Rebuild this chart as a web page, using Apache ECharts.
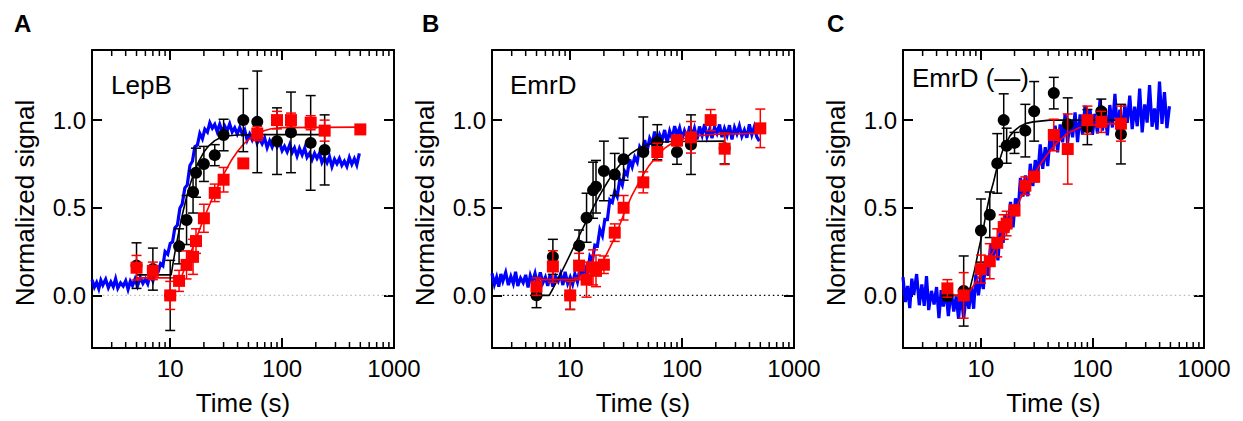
<!DOCTYPE html>
<html><head><meta charset="utf-8">
<script src="https://cdn.jsdelivr.net/npm/echarts@6.0.0/dist/echarts.min.js"></script>
<style>html,body{margin:0;padding:0;background:#fff}#c{width:1243px;height:421px}</style>
</head><body><div id="c"></div>
<script>
// ---------- data ----------
const panelLetters = ['A', 'B', 'C'];
const panelNames = ['LepB', 'EmrD', 'EmrD (\u2014)'];
const xTickLabels = ['10', '100', '1000'];
const yTicks = [0, 0.5, 1.0];
const xMinorTicks = [3,4,5,6,7,8,9,20,30,40,50,60,70,80,90,200,300,400,500,600,700,800,900];
const zeroLine = [2.5, 900];

const blueTimes = [2.0,2.1,2.2,2.3,2.4,2.5,2.65,2.8,2.95,3.1,
3.25,3.4,3.6,3.8,4.0,4.2,4.4,4.6,4.85,5.1,
5.4,5.7,6.0,6.3,6.6,7.0,7.4,7.8,8.2,8.6,
9.0,9.5,10,10.5,11,11.6,12.2,12.8,13.5,14.2,
15,15.8,16.6,17.5,18.4,19.4,20.4,21.5,22.6,23.8,
25,26.3,27.7,29.2,30.7,32.3,34,35.8,37.7,39.7,
41.8,44,46.3,48.7,51.3,54,56.8,59.8,63,66.3,
69.8,73.5,77.4,81.5,85.8,90.3,95,100,105,111,
117,123,129,136,143,151,159,167,176,185,
195,205,216,227,239,252,265,279,294,309,
325,342,360,379,399,420,442,465,490];

const blueA = [0.089,0.047,0.074,0.038,0.086,0.059,0.092,0.044,0.077,0.050,
0.095,0.041,0.071,0.053,0.083,0.035,0.080,0.056,0.094,0.054,
0.102,0.068,0.094,0.066,0.118,0.083,0.132,0.134,0.181,0.169,
0.25,0.235,0.296,0.306,0.385,0.402,0.497,0.521,0.612,0.63,
0.741,0.765,0.848,0.858,0.924,0.893,0.949,0.932,0.985,0.954,
0.975,0.934,0.977,0.934,0.966,0.938,0.979,0.933,0.956,0.921,
0.958,0.921,0.944,0.886,0.92,0.888,0.925,0.869,0.894,0.865,
0.898,0.843,0.882,0.847,0.887,0.848,0.871,0.826,0.851,0.819,
0.859,0.815,0.841,0.795,0.839,0.802,0.84,0.788,0.811,0.774,
0.811,0.782,0.811,0.759,0.788,0.757,0.792,0.735,0.777,0.751,
0.781,0.742,0.766,0.736,0.787,0.748,0.78,0.744,0.81];

const blueB = [0.126,0.063,0.104,0.05,0.122,0.081,0.131,0.059,0.108,0.068,
0.135,0.054,0.099,0.072,0.117,0.045,0.113,0.077,0.126,0.063,
0.131,0.072,0.104,0.054,0.117,0.05,0.108,0.081,0.122,0.059,
0.135,0.068,0.104,0.064,0.123,0.078,0.151,0.107,0.158,0.115,
0.222,0.198,0.287,0.282,0.376,0.34,0.434,0.433,0.545,0.531,
0.593,0.564,0.662,0.629,0.708,0.688,0.776,0.733,0.789,0.76,
0.847,0.822,0.886,0.826,0.896,0.864,0.935,0.866,0.917,0.886,
0.944,0.871,0.938,0.895,0.966,0.914,0.956,0.894,0.939,0.899,
0.966,0.908,0.953,0.89,0.964,0.914,0.977,0.905,0.947,0.897,
0.96,0.925,0.975,0.903,0.953,0.913,0.971,0.89,0.958,0.922,
0.967,0.908,0.944,0.899,0.976,0.917,0.962,0.904,0.88];

const blueC = [0.104,-0.038,0.054,-0.072,0.096,0.004,0.122,-0.056,0.062,-0.06,
0.11,-0.084,0.026,-0.052,0.048,-0.13,0.03,-0.064,0.034,-0.118,
0.032,-0.092,-0.006,-0.134,0.018,-0.132,0.007,-0.076,0.046,-0.076,
0.12,0.0,0.116,0.036,0.2,0.112,0.292,0.196,0.322,0.2,
0.406,0.3,0.458,0.368,0.534,0.388,0.554,0.472,0.67,0.564,
0.685,0.566,0.751,0.624,0.772,0.685,0.862,0.722,0.846,0.738,
0.918,0.826,0.969,0.816,0.975,0.873,1.035,0.869,0.999,0.902,
1.044,0.874,1.032,0.917,1.082,0.949,1.064,0.916,1.036,0.924,
1.12,0.94,1.065,0.913,1.086,0.958,1.15,0.942,1.059,0.931,
1.088,0.984,1.14,0.949,1.077,0.965,1.18,0.93,1.09,0.986,
1.2,0.962,1.066,0.946,1.22,0.978,1.16,0.954,1.079];

// [time, value, error]
const blackA = [[5,0.17,0.13],[7,0.15,0.12],[10,0.0,0.2],[12,0.28,0.1],[14,0.43,0.14],[16,0.59,0.12],[17,0.70,0.14],[20,0.75,0.1],[25,0.80,0.06],[30,0.915,0.09],[45,1.0,0.18],[60,0.99,0.29],[90,0.88,0.19],[120,0.93,0.23],[180,0.87,0.27],[240,0.83,0.2]];
const redA = [[5,0.158,0.07],[7,0.14,0.05],[10,0.0,0.08],[12,0.083,0.06],[14,0.174,0.08],[16,0.22,0.1],[17,0.31,0.07],[20,0.44,0.08],[25,0.585,0.05],[30,0.66,0.07],[45,0.753,0.02],[60,0.923,0.04],[90,1.0,0.05],[120,1.0,0.04],[180,0.985,0.04],[240,0.94,0.06],[500,0.947,0.02]];
const blackB = [[5,0.0,0.07],[7,0.22,0.1],[10,0.0,0.08],[12,0.283,0.09],[14,0.443,0.14],[16,0.60,0.16],[17,0.62,0.15],[20,0.71,0.17],[25,0.69,0.12],[30,0.777,0.12],[45,0.818,0.2],[60,0.874,0.1],[90,0.818,0.07],[120,0.86,0.17],[240,0.84,0.09]];
const redB = [[5,0.05,0.05],[7,0.165,0.09],[10,0.0,0.08],[12,0.17,0.07],[14,0.09,0.1],[16,0.16,0.1],[17,0.14,0.09],[20,0.175,0.05],[25,0.358,0.05],[30,0.50,0.07],[45,0.645,0.06],[60,0.818,0.05],[90,0.884,0.03],[120,0.902,0.09],[180,1.0,0.06],[240,0.837,0.09],[500,0.953,0.11]];
const blackC = [[5,0.0,0.03],[7,0.025,0.2],[10,0.37,0.18],[12,0.46,0.13],[14,0.753,0.17],[16,1.0,0.15],[17,0.854,0.1],[20,0.87,0.06],[25,0.94,0.15],[30,1.05,0.17],[45,1.154,0.09],[60,0.977,0.15],[90,0.96,0.1],[120,1.05,0.07],[180,0.92,0.17]];
const redC = [[5,0.04,0.05],[7,0.0,0.13],[10,0.15,0.08],[12,0.195,0.1],[14,0.30,0.08],[16,0.39,0.07],[17,0.41,0.07],[20,0.485,0.03],[25,0.626,0.05],[30,0.677,0.03],[45,0.915,0.09],[60,0.835,0.2],[90,1.0,0.08],[120,0.99,0.06],[180,0.98,0.1]];

// fitted curves [time, value]
const fitBlackA = [[5,0.117],[10.2,0.117],[10.5,0.167],[11,0.243],[11.5,0.31],[12,0.37],[12.5,0.427],[13,0.476],[14,0.561],[15,0.63],[16,0.684],[17,0.729],[18,0.765],[20,0.818],[22,0.852],[25,0.883],[28,0.899],[32,0.909],[40,0.915],[60,0.917],[240,0.917]];
const fitRedA = [[5,0.1],[12.5,0.1],[13,0.128],[14,0.18],[15,0.23],[16,0.279],[18,0.364],[20,0.44],[22,0.503],[25,0.586],[30,0.69],[35,0.768],[40,0.822],[45,0.861],[50,0.889],[60,0.924],[70,0.941],[80,0.951],[100,0.957],[500,0.96]];
const fitBlackB = [[5,0],[6.5,0],[7,0.038],[8,0.109],[9,0.174],[10,0.234],[11,0.289],[12,0.339],[14,0.427],[16,0.5],[18,0.562],[20,0.613],[23,0.676],[26,0.723],[30,0.77],[35,0.81],[40,0.834],[50,0.861],[60,0.872],[80,0.878],[240,0.88]];
const fitRedB = [[5,0.09],[14.5,0.09],[16,0.115],[18,0.16],[20,0.205],[22.5,0.27],[25,0.33],[28,0.41],[30,0.46],[35,0.56],[40,0.63],[45,0.69],[50,0.735],[60,0.8],[70,0.84],[80,0.865],[100,0.892],[130,0.908],[180,0.918],[500,0.925]];
const fitBlackC = [[5,0],[7.7,0],[8.8,0.15],[9.6,0.27],[10.5,0.38],[11.2,0.48],[12,0.57],[13,0.65],[13.8,0.72],[15,0.79],[15.8,0.835],[17,0.875],[18.2,0.91],[20,0.94],[22.3,0.964],[25,0.98],[29.4,0.99],[41.5,1.0],[180,1.0]];
const fitRedC = [[5,0],[7.5,0],[8.5,0.052],[9.8,0.115],[11,0.17],[12,0.214],[13.5,0.273],[15,0.33],[17,0.4],[20,0.485],[23,0.56],[26,0.62],[30,0.69],[35,0.76],[40,0.81],[45,0.85],[52,0.89],[60,0.925],[75,0.955],[90,0.968],[120,0.977],[180,0.98]];

// ---------- chart ----------
const FONT = '"Liberation Sans", Arial, Helvetica, sans-serif';
const gridBoxes = [
  {left: 92, top: 50, width: 302, height: 301},
  {left: 492, top: 50, width: 302, height: 301},
  {left: 903, top: 50, width: 301, height: 301}
];
const panels = [
  {blue: blueA, black: blackA, red: redA, fitK: fitBlackA, fitR: fitRedA, zeroColor: '#bbbbbb'},
  {blue: blueB, black: blackB, red: redB, fitK: fitBlackB, fitR: fitRedB, zeroColor: '#000000'},
  {blue: blueC, black: blackC, red: redC, fitK: fitBlackC, fitR: fitRedC, zeroColor: '#bbbbbb'}
];
const labelPos = [
  {letter: [14, 11], name: [111, 72]},
  {letter: [422, 11], name: [510, 72]},
  {letter: [827, 11], name: [912, 65]}
];

const axLine = {show: true, onZero: false, lineStyle: {color: '#000', width: 2}};
const xAxes = [], yAxes = [], series = [];

function errRender(color) {
  return function (params, api) {
    const t = api.value(0), v = api.value(1), e = api.value(2);
    const top = api.coord([t, v + e]);
    const bot = api.coord([t, v - e]);
    const hw = 5;
    const style = {stroke: color, lineWidth: 1.5};
    return {type: 'group', children: [
      {type: 'line', shape: {x1: top[0], y1: top[1], x2: bot[0], y2: bot[1]}, style: style},
      {type: 'line', shape: {x1: top[0] - hw, y1: top[1], x2: top[0] + hw, y2: top[1]}, style: style},
      {type: 'line', shape: {x1: bot[0] - hw, y1: bot[1], x2: bot[0] + hw, y2: bot[1]}, style: style}
    ]};
  };
}
function minorRender(params, api) {
  const x = api.coord([api.value(0), 0.5])[0];
  const cs = params.coordSys;
  const st = {stroke: '#000', lineWidth: 1.5};
  return {type: 'group', children: [
    {type: 'line', shape: {x1: x, y1: cs.y + cs.height, x2: x, y2: cs.y + cs.height - 6}, style: st},
    {type: 'line', shape: {x1: x, y1: cs.y, x2: x, y2: cs.y + 6}, style: st}
  ]};
}

gridBoxes.forEach(function (g, i) {
  xAxes.push({
    gridIndex: i, type: 'log', logBase: 10, min: 2, max: 1000, position: 'bottom',
    axisLine: axLine,
    axisTick: {show: true, inside: true, length: 10, lineStyle: {color: '#000', width: 2}},
    axisLabel: {show: true, margin: 8, fontSize: 24, fontFamily: FONT, color: '#000',
      formatter: function (v) { const r = Math.round(v); return (Math.abs(v - r) < 1e-6 && xTickLabels.indexOf(String(r)) >= 0) ? String(r) : ''; }},
    splitLine: {show: false},
    name: 'Time (s)', nameLocation: 'middle', nameGap: 42,
    nameTextStyle: {fontSize: 26, fontFamily: FONT, color: '#000'}
  });
  xAxes.push({
    gridIndex: i, type: 'log', logBase: 10, min: 2, max: 1000, position: 'top',
    axisLine: axLine,
    axisTick: {show: true, inside: true, length: 10, lineStyle: {color: '#000', width: 2}},
    axisLabel: {show: false}, splitLine: {show: false}
  });
  yAxes.push({
    gridIndex: i, type: 'value', min: -0.3, max: 1.4, position: 'left',
    axisLine: axLine,
    axisTick: {show: true, inside: true, length: 10, customValues: yTicks, lineStyle: {color: '#000', width: 2}},
    axisLabel: {show: true, customValues: yTicks, margin: 6, fontSize: 24, fontFamily: FONT, color: '#000',
      formatter: function (v) { return v.toFixed(1); }},
    splitLine: {show: false},
    name: 'Normalized signal', nameLocation: 'middle', nameGap: 54, nameRotate: 90,
    nameTextStyle: {fontSize: 26, fontFamily: FONT, color: '#000', padding: [0, 8, 0, 0]}
  });
  yAxes.push({
    gridIndex: i, type: 'value', min: -0.3, max: 1.4, position: 'right',
    axisLine: axLine,
    axisTick: {show: true, inside: true, length: 10, customValues: yTicks, lineStyle: {color: '#000', width: 2}},
    axisLabel: {show: false}, splitLine: {show: false}
  });

  const p = panels[i];
  const xi = 2 * i, yi = 2 * i;
  series.push({
    type: 'line', xAxisIndex: xi, yAxisIndex: yi, z: 1, silent: true,
    data: zeroLine.map(function (t) { return [t, 0]; }),
    symbol: 'none', lineStyle: {color: p.zeroColor, width: 1.2, type: [1.5, 3]}
  });
  series.push({
    type: 'line', xAxisIndex: xi, yAxisIndex: yi, z: 2, silent: true,
    data: blueTimes.map(function (t, k) { return [t, p.blue[k]]; }),
    symbol: 'none', lineStyle: {color: '#0000ff', width: 3.2, join: 'miter'}
  });
  series.push({
    type: 'line', xAxisIndex: xi, yAxisIndex: yi, z: 3, silent: true,
    data: p.fitK, symbol: 'none', lineStyle: {color: '#000', width: 1.6}
  });
  series.push({
    type: 'line', xAxisIndex: xi, yAxisIndex: yi, z: 3, silent: true,
    data: p.fitR, symbol: 'none', lineStyle: {color: '#ff0000', width: 1.6}
  });
  series.push({
    type: 'custom', xAxisIndex: xi, yAxisIndex: yi, z: 4, silent: true,
    data: p.black, encode: {x: 0, y: 1}, renderItem: errRender('#000')
  });
  series.push({
    type: 'scatter', xAxisIndex: xi, yAxisIndex: yi, z: 5, silent: true,
    data: p.black.map(function (d) { return [d[0], d[1]]; }),
    symbol: 'circle', symbolSize: 12, itemStyle: {color: '#000', opacity: 1}
  });
  series.push({
    type: 'custom', xAxisIndex: xi, yAxisIndex: yi, z: 6, silent: true,
    data: p.red, encode: {x: 0, y: 1}, renderItem: errRender('#ff0000')
  });
  series.push({
    type: 'scatter', xAxisIndex: xi, yAxisIndex: yi, z: 7, silent: true,
    data: p.red.map(function (d) { return [d[0], d[1]]; }),
    symbol: 'rect', symbolSize: 12, itemStyle: {color: '#ff0000', opacity: 1}
  });
  series.push({
    type: 'custom', xAxisIndex: xi, yAxisIndex: yi, z: 8, silent: true, clip: false,
    data: xMinorTicks.map(function (t) { return [t, 0.5]; }), encode: {x: 0, y: 1},
    renderItem: minorRender
  });
});

const graphics = [];
labelPos.forEach(function (lp, i) {
  graphics.push({type: 'text', left: lp.letter[0], top: lp.letter[1],
    style: {text: panelLetters[i], font: 'bold 24px ' + FONT, fill: '#000'}});
  graphics.push({type: 'text', left: lp.name[0], top: lp.name[1],
    style: {text: panelNames[i], font: '26px ' + FONT, fill: '#000'}});
});

const chart = echarts.init(document.getElementById('c'), null, {renderer: 'svg'});
chart.setOption({
  animation: false,
  backgroundColor: '#ffffff',
  grid: gridBoxes.map(function (g) { return Object.assign({containLabel: false}, g); }),
  xAxis: xAxes,
  yAxis: yAxes,
  series: series,
  graphic: graphics
});
</script>
</body></html>
